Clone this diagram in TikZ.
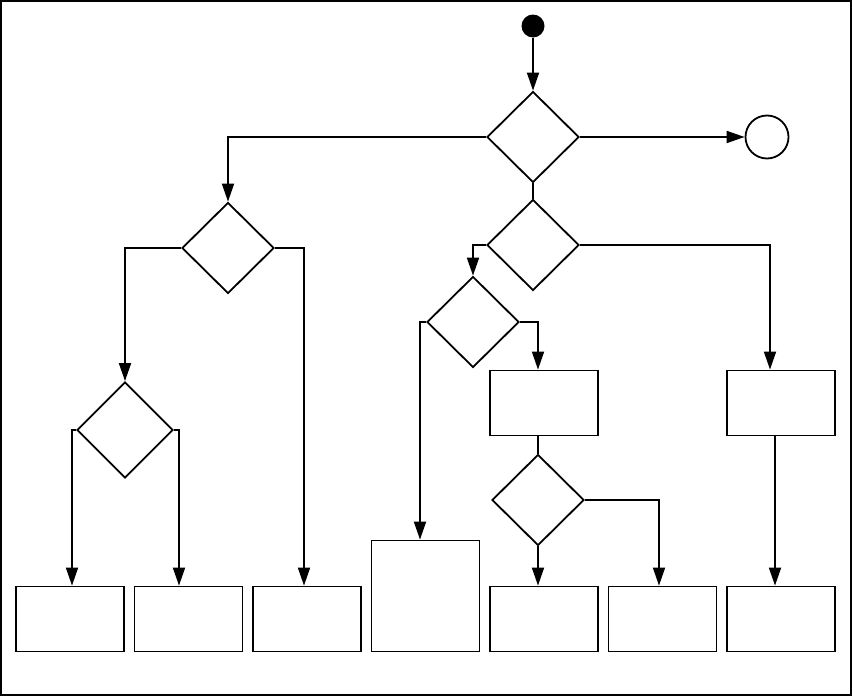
\documentclass[tikz,border=0pt]{standalone}
\usepackage{tikz}
\usetikzlibrary{calc}
\usetikzlibrary{shapes.geometric}
\usetikzlibrary{arrows.meta}
\tikzset{
	decision/.style={diamond, draw, line width=1.8pt, inner sep=0pt, minimum width=92pt, minimum height=91pt},
	action/.style={rectangle, draw, line width=1.8pt, inner sep=0pt, minimum width=108pt, minimum height=65pt},
	flow/.style={line width=1.8pt, -{Triangle[length=18pt,width=12pt]}},
	link/.style={line width=1.8pt},
}

\begin{document}
\begin{tikzpicture}[x=1pt,y=-1pt]
		\useasboundingbox (0,0) rectangle (852,696);
		\draw[line width=1.8pt] (1,1) rectangle (851,695);
		% start and end
		\node[circle, fill=black, inner sep=0pt, minimum size=23pt] (start) at (533,26) {};
		\node[circle, draw, line width=1.8pt, inner sep=0pt, minimum size=43pt] (stop) at (767,137) {};
		% decisions
		\node[decision] (d1) at (533,137) {};
		\node[decision] (d2) at (228,248) {};
		\node[decision] (d3) at (533,245) {};
		\node[decision] (d4) at (473,322) {};
		\node[decision] (d5) at (538,500) {};
		\node[decision, minimum width=96pt, minimum height=96pt] (d6) at (125,430) {};
		% actions
		\node[action] (ra) at (781,403) {};
		\node[action] (rb) at (544,403) {};
		\node[action, minimum height=111pt] (tall) at (425.5,596) {};
		\node[action] (b1) at (70,619) {};
		\node[action] (b2) at (188.5,619) {};
		\node[action] (b3) at (307,619) {};
		\node[action] (b5) at (544,619) {};
		\node[action] (b6) at (662.5,619) {};
		\node[action] (b7) at (781,619) {};
		% connectors
		\draw[flow] (start) -- (d1);
		\draw[flow] (d1.east) -- (stop);
		\draw[flow] (d1.west) -| (d2.north);
		\draw[link] (d1.south) -- (d3.north);
		\draw[flow] (d3.west) -| (d4.north);
		\draw[flow] (d3.east) -| ([xshift=-11pt]ra.north);
		\draw[flow] ([xshift=-6pt]ra.south) -- ([xshift=-6pt]b7.north);
		\draw[flow] (d4.west) -| ([xshift=-5.5pt]tall.north);
		\draw[flow] (d4.east) -| ([xshift=-6pt]rb.north);
		\draw[link] ([xshift=-6pt]rb.south) -- (d5.north);
		\draw[flow] (d5.south) -- ([xshift=-6pt]b5.north);
		\draw[flow] (d5.east) -| ([xshift=-3.5pt]b6.north);
		\draw[flow] (d2.west) -| (d6.north);
		\draw[flow] (d2.east) -| ([xshift=-3pt]b3.north);
		\draw[flow] (d6.west) -| ([xshift=2pt]b1.north);
		\draw[flow] (d6.east) -| ([xshift=-9.5pt]b2.north);
	\end{tikzpicture}
\end{document}
